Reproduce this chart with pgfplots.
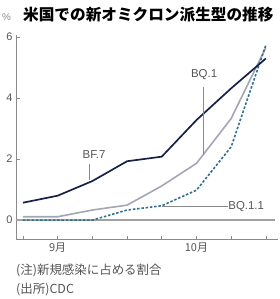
\documentclass[border=0pt]{standalone}
\usepackage{pgfplots}
\pgfplotsset{compat=1.18}
\usepackage{fontspec}
\setmainfont{Liberation Sans}
\newfontfamily\cjk{Noto Sans CJK JP}
\definecolor{navy}{HTML}{16214A}
\definecolor{bqgray}{HTML}{A3A6B3}
\definecolor{teal}{HTML}{2F6F8F}
\definecolor{axgray}{HTML}{8A8A8A}
\definecolor{txtgray}{HTML}{555555}
\begin{document}
\begin{tikzpicture}
\begin{axis}[
  scale only axis, width=262bp, height=204bp,
  xmin=-0.2, xmax=7.35, ymin=-0.62, ymax=6.07,
  axis lines=left, axis line style={-, axgray, line width=0.8pt},
  xtick={0,1,2,3,4,5,6,7},
  xticklabels={,\cjk 9月,,,,\cjk 10月,,},
  ytick={0,2,4,6},
  tick align=inside, major tick length=3.5bp,
  tick style={axgray, line width=0.7pt},
  ticklabel style={font=\fontsize{11}{12}\selectfont, text=txtgray},
  /pgf/number format/assume math mode=true,
  clip=false,
]
\addplot[axgray!80, line width=1.2pt] coordinates {(-0.2,0) (7.25,0)};
\addplot[bqgray, line width=1.6pt] coordinates {
(0,0.11) (1,0.11) (2,0.33) (3,0.49) (4,1.12) (5,1.86) (6,3.33) (7,5.66)};
\addplot[teal, line width=1.6pt, dash pattern=on 2.5pt off 1.8pt] coordinates {
(0,0.0) (1,0.0) (2,0.0) (3,0.33) (4,0.47) (5,0.98) (6,2.4) (7,5.74)};
\addplot[navy, line width=1.7pt] coordinates {
(0,0.57) (1,0.8) (2,1.28) (3,1.93) (4,2.08) (5,3.28) (6,4.32) (7,5.3)};
\draw[axgray, line width=0.6pt] (axis cs:1.9,1.84) -- (axis cs:1.9,1.32);
\node[text=txtgray, font=\fontsize{11.5}{12}\selectfont] at (axis cs:2.05,2.15) {BF.7};
\draw[axgray, line width=0.6pt] (axis cs:5.19,4.36) -- (axis cs:5.19,2.12);
\node[text=txtgray, font=\fontsize{11.5}{12}\selectfont] at (axis cs:5.22,4.76) {BQ.1};
\draw[axgray, line width=0.6pt] (axis cs:4.0,0.44) -- (axis cs:5.9,0.44);
\node[text=txtgray, anchor=west, inner sep=0.5pt, font=\fontsize{11.5}{12}\selectfont] at (axis cs:5.9,0.44) {BQ.1.1};
\end{axis}
\node[anchor=west, inner sep=0, text=axgray, font=\fontsize{10}{11}\selectfont] at (-14bp,222bp) {\%};
\node[anchor=west, inner sep=0, font=\cjk\bfseries\fontsize{15.7}{18}\selectfont] at (7bp,224bp) {米国での新オミクロン派生型の推移};
\node[anchor=west, inner sep=0, text=txtgray, font=\cjk\fontsize{12.5}{14}\selectfont] at (0bp,-31bp) {(注)新規感染に占める割合};
\node[anchor=west, inner sep=0, text=txtgray, font=\cjk\fontsize{12.5}{14}\selectfont] at (0bp,-51bp) {(出所)CDC};
\pgfresetboundingbox
\path[use as bounding box] (-16bp,-60bp) rectangle (264bp,239bp);
\end{tikzpicture}
\end{document}
